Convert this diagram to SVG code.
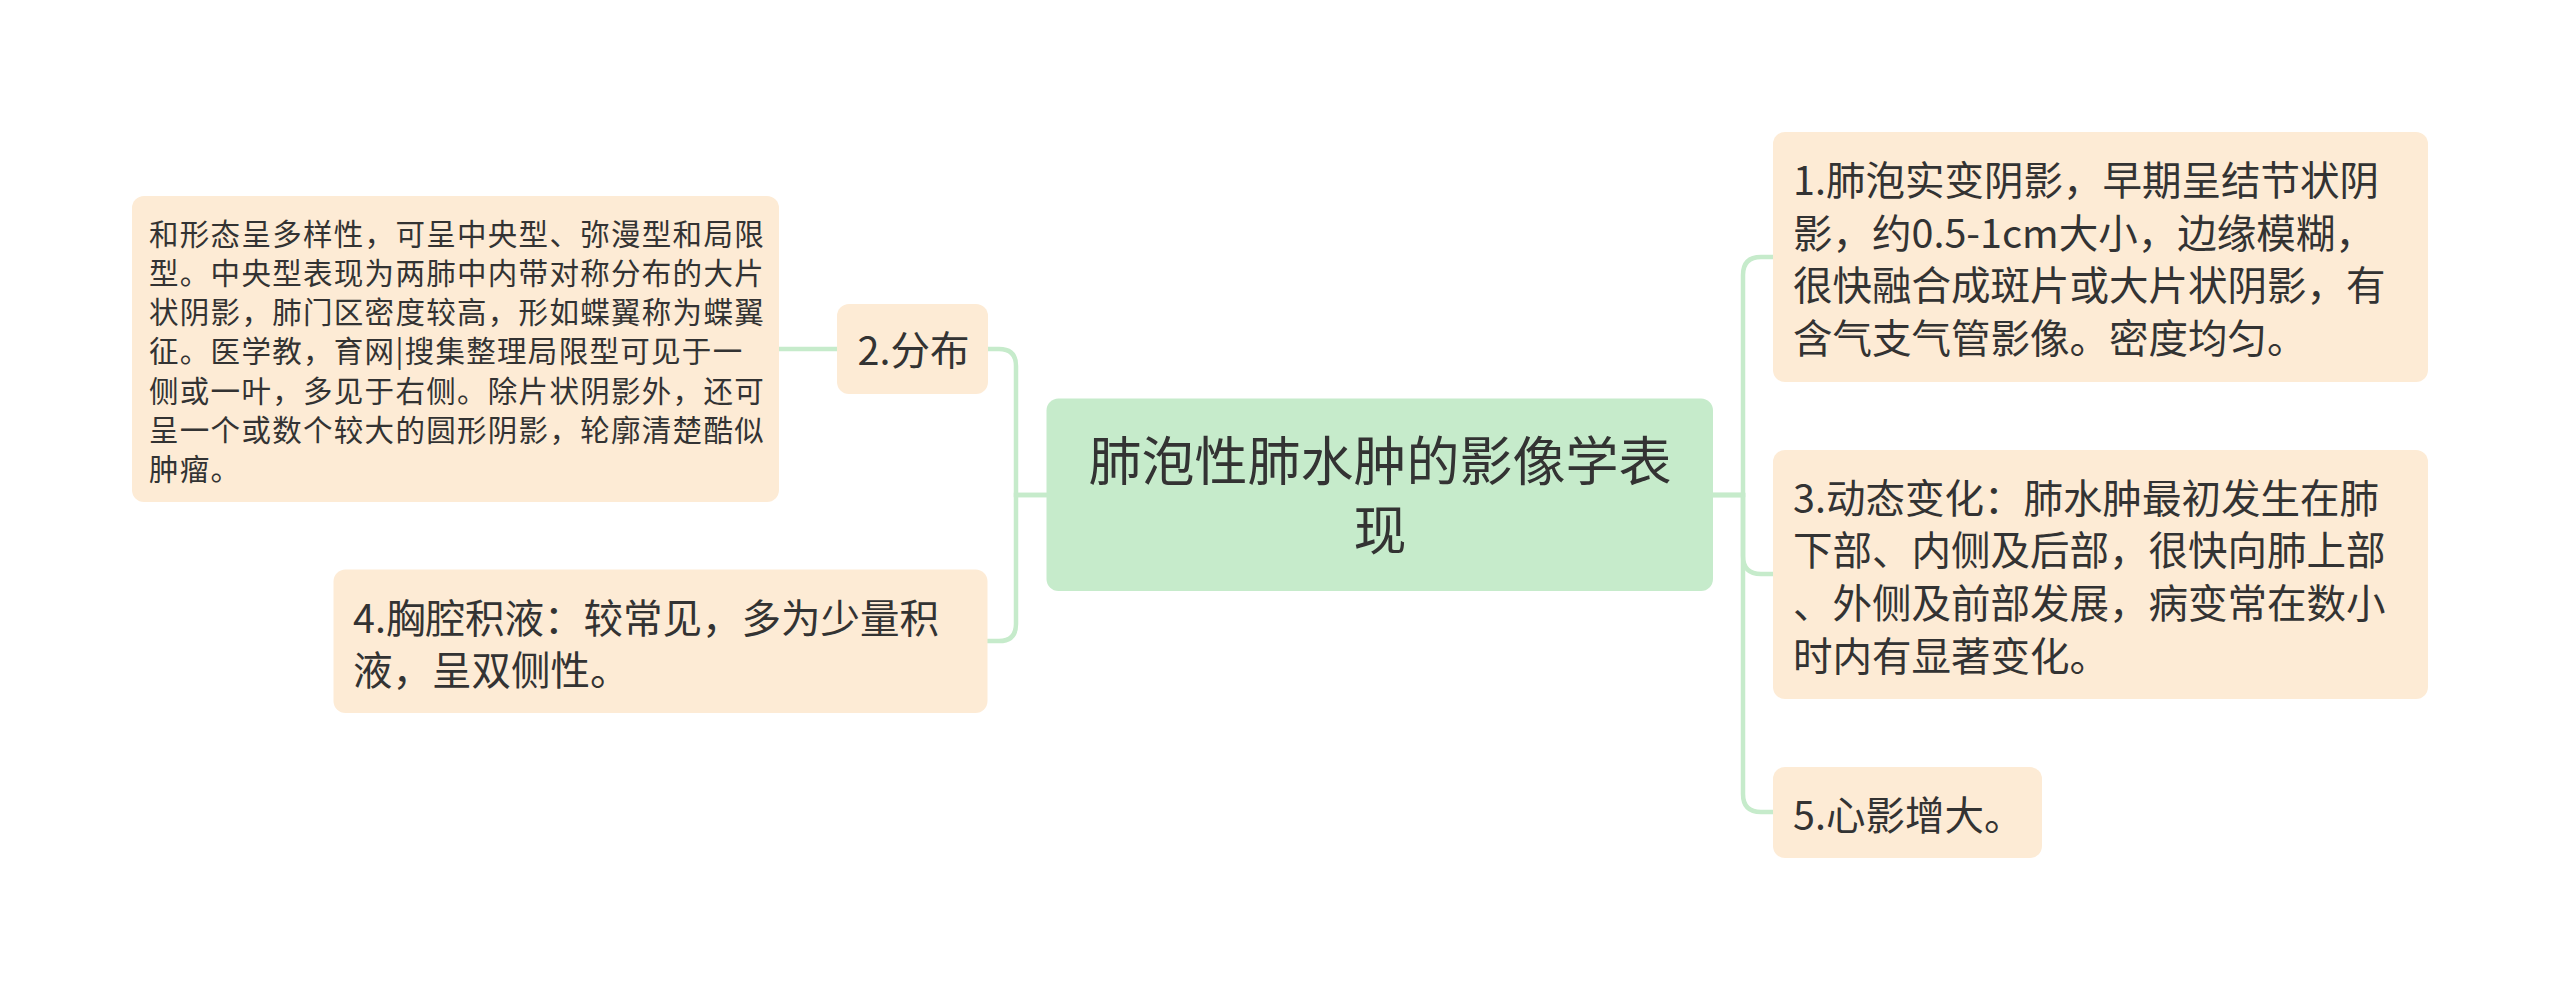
<svg xmlns="http://www.w3.org/2000/svg" width="2560" height="991" viewBox="0 0 2560 991">
<style>
.bg{fill:#ffffff}
.topic{fill:#fdebd5}
.central{fill:#c6ebcb}
.t{font-family:"Noto Sans CJK SC","Noto Sans",sans-serif;fill:#333333}
.body{font-size:39.5px}
.small{font-size:29.5px;letter-spacing:1.3px}
.title{font-size:53px;text-anchor:middle}
.conn path{fill:none;stroke:#c6ebcb;stroke-width:4.5}
</style>
<rect class="bg" x="0" y="0" width="2560" height="991"/>
<g id="connectors" class="conn">
<path d="M1047,495 H1016 V366 Q1016,349 999,349 H988"/>
<path d="M1047,495 H1016 V624 Q1016,641 999,641 H987"/>
<path d="M837,349 H779"/>
<path d="M1713,495 H1743 V275 Q1743,257 1761,257 H1773"/>
<path d="M1713,495 H1743 V556 Q1743,574 1761,574 H1773"/>
<path d="M1713,495 H1743 V794 Q1743,812 1761,812 H1773"/>
</g>
<g id="central">
<rect class="central" x="1046.5" y="398.5" width="666.5" height="192.5" rx="12"/>
<text class="t title" x="1380" y="480.5">肺泡性肺水肿的影像学表</text>
<text class="t title" x="1380" y="550">现</text>
</g>
<g id="node2">
<rect class="topic" x="837" y="304" width="151" height="90" rx="12"/>
<text class="t body" x="857.5" y="365">2.分布</text>
</g>
<g id="node2-detail">
<rect class="topic" x="132" y="196" width="647" height="306" rx="12"/>
<text class="t small" x="149">
<tspan x="149" y="244.5">和形态呈多样性，可呈中央型、弥漫型和局限</tspan>
<tspan x="149" y="283.8">型。中央型表现为两肺中内带对称分布的大片</tspan>
<tspan x="149" y="323.1">状阴影，肺门区密度较高，形如蝶翼称为蝶翼</tspan>
<tspan x="149" y="362.4">征。医学教，育网|搜集整理局限型可见于一</tspan>
<tspan x="149" y="401.7">侧或一叶，多见于右侧。除片状阴影外，还可</tspan>
<tspan x="149" y="441">呈一个或数个较大的圆形阴影，轮廓清楚酷似</tspan>
<tspan x="149" y="480.3">肿瘤。</tspan>
</text>
</g>
<g id="node4">
<rect class="topic" x="333.5" y="569.5" width="654" height="143.5" rx="12"/>
<text class="t body">
<tspan x="353" y="632.5">4.胸腔积液：较常见，多为少量积</tspan>
<tspan x="353" y="685.2">液，呈双侧性。</tspan>
</text>
</g>
<g id="node1">
<rect class="topic" x="1773" y="132" width="655" height="250" rx="12"/>
<text class="t body">
<tspan x="1793" y="195">1.肺泡实变阴影，早期呈结节状阴</tspan>
<tspan x="1793" y="247.7">影，约0.5-1cm大小，边缘模糊，</tspan>
<tspan x="1793" y="300.4">很快融合成斑片或大片状阴影，有</tspan>
<tspan x="1793" y="353.1">含气支气管影像。密度均匀。</tspan>
</text>
</g>
<g id="node3">
<rect class="topic" x="1773" y="450" width="655" height="249" rx="12"/>
<text class="t body">
<tspan x="1793" y="512.5">3.动态变化：肺水肿最初发生在肺</tspan>
<tspan x="1793" y="565.2">下部、内侧及后部，很快向肺上部</tspan>
<tspan x="1793" y="617.9">、外侧及前部发展，病变常在数小</tspan>
<tspan x="1793" y="670.6">时内有显著变化。</tspan>
</text>
</g>
<g id="node5">
<rect class="topic" x="1773" y="767" width="269" height="91" rx="12"/>
<text class="t body" x="1793" y="830">5.心影增大。</text>
</g>
</svg>
